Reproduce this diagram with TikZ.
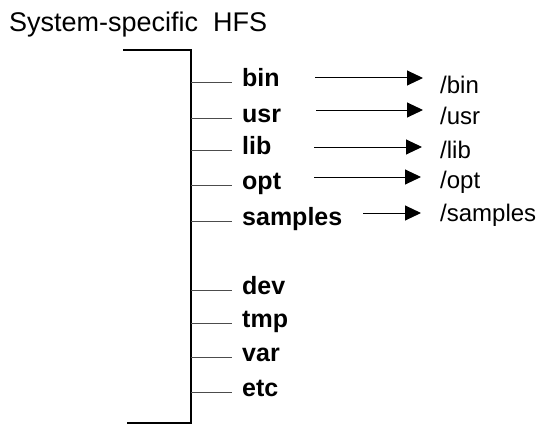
\documentclass[tikz,border=0pt]{standalone}
\usepackage{fontspec}
\setmainfont{Liberation Sans}
\usetikzlibrary{arrows.meta}
\tikzset{
  dirlbl/.style={anchor=base west, inner sep=0pt, font=\fontsize{25}{27}\selectfont\bfseries},
  mntlbl/.style={anchor=base west, inner sep=0pt, font=\fontsize{24}{26}\selectfont},
  titlelbl/.style={anchor=base west, inner sep=0pt, font=\fontsize{27}{30}\selectfont},
  spine/.style={line width=2.2pt, black},
  branch/.style={line width=1pt, black!70},
  arr/.style={line width=1pt, black, -{Triangle[length=16pt,width=15pt]}}
}
\begin{document}
\begin{tikzpicture}[x=1pt,y=-1pt]
\useasboundingbox (0,0) rectangle (537,425);
\node[titlelbl] (title) at (9,32) {System-specific\ \ HFS};
% bracket
\coordinate (bt0) at (123,50);
\coordinate (bt1) at (191,50);
\coordinate (bb1) at (191,423);
\coordinate (bb0) at (127,423);
\draw[spine] (bt0) -- (bt1) -- (bb1) -- (bb0);
% branches and labels
\foreach \name/\y in {bin/83, usr/118, lib/150, opt/185, samples/221, dev/290, tmp/323, var/357, etc/392}{
  \coordinate (s-\name) at (191,\y);
  \node[dirlbl] (d-\name) at (242,\y+4) {\name};
  \draw[branch] (s-\name) -- (232,\y);
}
% mount labels
\node[mntlbl] (m-bin) at (440,93) {/bin};
\node[mntlbl] (m-usr) at (440,124) {/usr};
\node[mntlbl] (m-lib) at (440,158) {/lib};
\node[mntlbl] (m-opt) at (440,188) {/opt};
\node[mntlbl] (m-samples) at (440,221) {/samples};
% arrows
\coordinate (a-bin0) at (315,78);   \coordinate (a-bin1) at (423,78);
\coordinate (a-usr0) at (316,110);  \coordinate (a-usr1) at (423,110);
\coordinate (a-lib0) at (314,147);  \coordinate (a-lib1) at (422,147);
\coordinate (a-opt0) at (314,177);  \coordinate (a-opt1) at (421,177);
\coordinate (a-samples0) at (363,213); \coordinate (a-samples1) at (421,213);
\foreach \name in {bin,usr,lib,opt,samples}{
  \draw[arr] (a-\name0) -- (a-\name1);
}
\end{tikzpicture}
\end{document}
